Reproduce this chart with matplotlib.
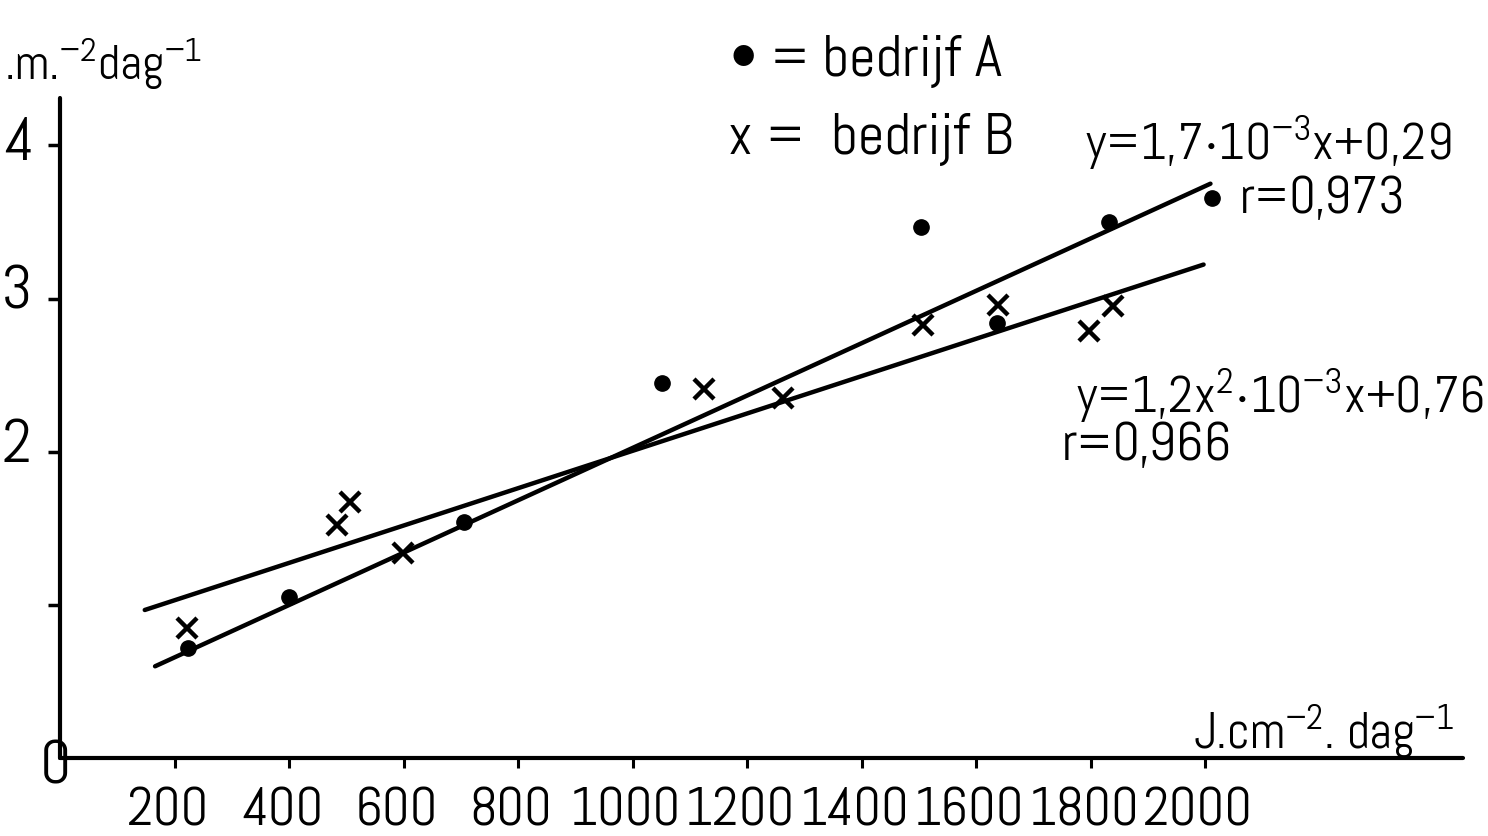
import numpy as np
import matplotlib
matplotlib.use("Agg")
import matplotlib.pyplot as plt
from matplotlib.transforms import ScaledTranslation

plt.rcParams['font.family'] = ['Abel', 'DejaVu Sans']
plt.rcParams['mathtext.fontset'] = 'custom'
plt.rcParams['mathtext.rm'] = 'Abel'
plt.rcParams['mathtext.default'] = 'regular'

# bedrijf A (dots)
a_x = [224, 400, 706, 1052, 1504, 1637, 1831, 2012]
a_y = [0.72, 1.05, 1.54, 2.45, 3.47, 2.84, 3.50, 3.66]
# bedrijf B (crosses)
b_x = [222, 484, 507, 599, 1125, 1263, 1507, 1638, 1797, 1839]
b_y = [0.85, 1.52, 1.67, 1.34, 2.41, 2.35, 2.83, 2.96, 2.79, 2.95]

# fitted lines as drawn: slope, intercept, x range
fit_a = (1.71e-3, 0.315, [166, 2009])
fit_b = (1.22e-3, 0.786, [148, 1997])

xticks = [200, 400, 600, 800, 1000, 1200, 1400, 1600, 1800, 2000]
yticks = [1, 2, 3, 4]
# only these y labels survive on the (cropped) scan
ylabels = ['2', '3', '4']

W, H = 1488, 836
fig = plt.figure(figsize=(W / 100, H / 100), dpi=100)


def px(x, y):
    return x / W, 1 - y / H


ax = fig.add_axes([60 / W, (H - 758) / H, 1403 / W, 660 / H])
ax.set_xlim(0, 2450)
ax.set_ylim(0, 4.31)
for s in ['top', 'right']:
    ax.spines[s].set_visible(False)
for s in ['left', 'bottom']:
    ax.spines[s].set_linewidth(3)
    ax.spines[s].set_capstyle('round')

ax.set_xticks(xticks)
ax.set_xticklabels([str(t) for t in xticks], fontsize=39)
ax.tick_params(axis='x', direction='out', length=7, width=2.2, pad=14)
shift = ScaledTranslation(-7 / 100, 0, fig.dpi_scale_trans)
for lab in ax.get_xticklabels():
    lab.set_transform(lab.get_transform() + shift)
ax.set_yticks(yticks)
ax.set_yticklabels([])
ax.tick_params(axis='y', direction='out', length=9, width=2.5)

for slope, icpt, xr in [fit_a, fit_b]:
    xs = np.array(xr)
    ax.plot(xs, slope * xs + icpt, color='black', lw=3.2,
            solid_capstyle='round')

ax.plot(a_x, a_y, 'o', color='black', ms=11)
ax.plot(b_x, b_y, 'x', color='black', ms=15, mew=3.2)

# y tick labels, pushed against the left edge of the scan
ylab_pos = [(1, 447), (1, 293), (3, 145)]
for t, (x, y) in zip(ylabels, ylab_pos):
    fig.text(*px(x, y), t, fontsize=44, ha='left', va='center')
fig.text(*px(40, 768), '0', fontsize=44, ha='left', va='center')

fig.text(*px(4, 64), r'.m.$^{-2}$dag$^{-1}$', fontsize=35,
         ha='left', va='center')
fig.text(*px(1193, 732), r'J.cm$^{-2}$. dag$^{-1}$', fontsize=36,
         ha='left', va='center')

fig.text(*px(730, 62), '\u2022 = bedrijf A', fontsize=42,
         ha='left', va='center')
fig.text(*px(728, 140), 'x =  bedrijf B', fontsize=42,
         ha='left', va='center')

fig.text(*px(1085, 143), r'y=1,7$\cdot$10$^{-3}$x+0,29', fontsize=37,
         ha='left', va='center')
fig.text(*px(1240, 200), 'r=0,973', fontsize=38, ha='left', va='center')
fig.text(*px(1076, 396), r'y=1,2x$^{2}$$\cdot$10$^{-3}$x+0,76',
         fontsize=37, ha='left', va='center')
fig.text(*px(1062, 447), 'r=0,966', fontsize=39, ha='left', va='center')

fig.savefig('out.png', dpi=100)
